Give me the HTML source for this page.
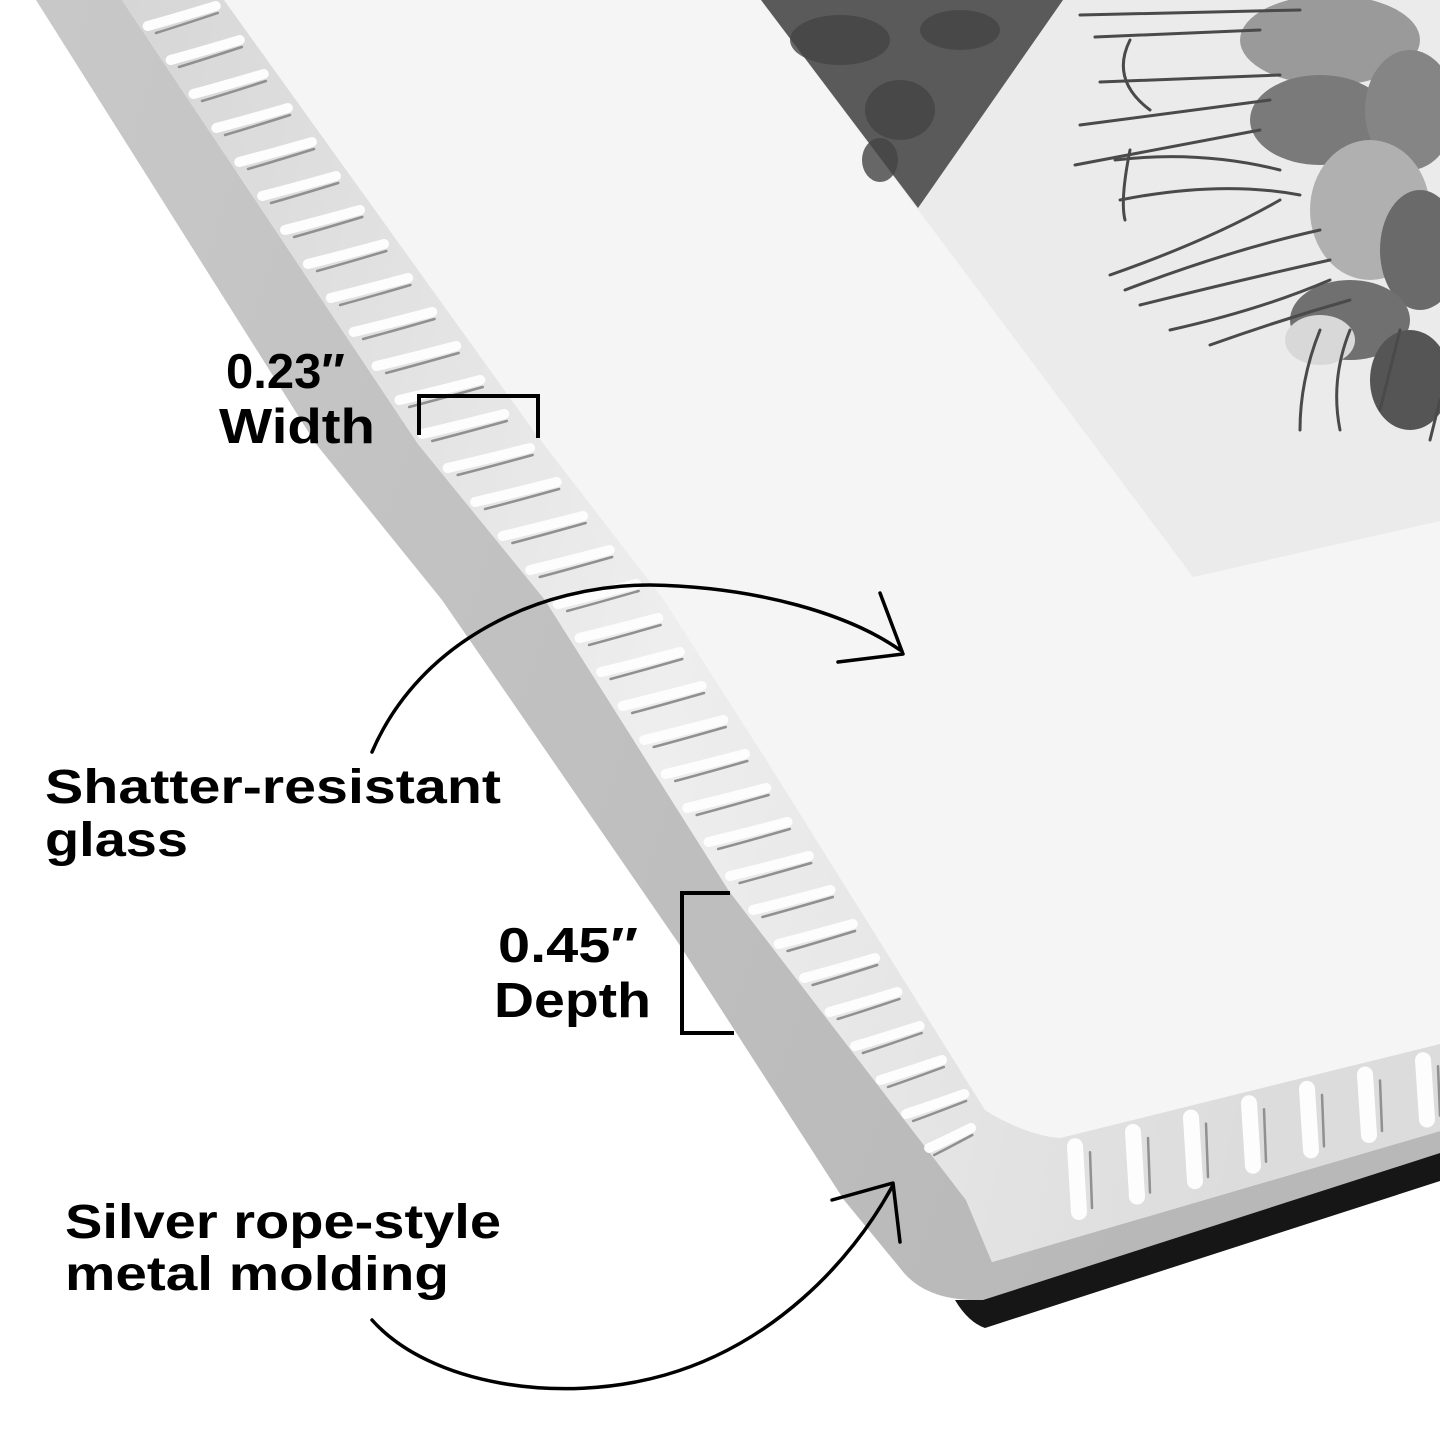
<!DOCTYPE html>
<html><head><meta charset="utf-8"><style>
html,body{margin:0;padding:0;background:#fff;}
svg{display:block}
.t{font-family:"Liberation Sans",sans-serif;font-weight:bold;fill:#000;}
</style></head><body>
<svg id="s" width="1440" height="1440" viewBox="0 0 1440 1440" xmlns="http://www.w3.org/2000/svg">
<defs>
<linearGradient id="gf" x1="0" y1="0" x2="1" y2="0.3">
<stop offset="0" stop-color="#c8c8c8"/><stop offset="1" stop-color="#b8b8b8"/></linearGradient>
<linearGradient id="rp" x1="0" y1="0" x2="1" y2="0.2">
<stop offset="0" stop-color="#d6d6d6"/><stop offset="0.5" stop-color="#eeeeee"/><stop offset="1" stop-color="#dcdcdc"/></linearGradient>
</defs>
<rect width="1440" height="1440" fill="#fff"/>
<!-- mat -->
<polygon points="224,0 1440,0 1440,1044 1060,1138 1025,1132 985,1110 767,761 664,600 536,434" fill="#f5f5f5"/>
<!-- photo -->
<polygon points="761,0 1440,0 1440,521 1193,577" fill="#ebebeb"/>
<polygon points="761,0 1063,0 918,208" fill="#5a5a5a"/>
<g fill="#444" opacity="0.8">
<ellipse cx="840" cy="40" rx="50" ry="25"/><ellipse cx="900" cy="110" rx="35" ry="30"/><ellipse cx="960" cy="30" rx="40" ry="20"/><ellipse cx="880" cy="160" rx="18" ry="22"/>
</g>
<g fill="#9a9a9a">
<ellipse cx="1330" cy="40" rx="90" ry="45"/>
<ellipse cx="1320" cy="120" rx="70" ry="45" fill="#7a7a7a"/>
<ellipse cx="1410" cy="110" rx="45" ry="60" fill="#858585"/>
<ellipse cx="1370" cy="210" rx="60" ry="70" fill="#b0b0b0"/>
<ellipse cx="1420" cy="250" rx="40" ry="60" fill="#6a6a6a"/>
<ellipse cx="1350" cy="320" rx="60" ry="40" fill="#707070"/>
<ellipse cx="1320" cy="340" rx="35" ry="25" fill="#d8d8d8"/>
<ellipse cx="1410" cy="380" rx="40" ry="50" fill="#555"/>
</g>
<g stroke="#4a4a4a" stroke-width="3" fill="none" stroke-linecap="round">
<path d="M1080,15 L1300,10"/><path d="M1095,37 L1260,30"/><path d="M1100,82 L1280,75"/>
<path d="M1080,125 L1270,100"/><path d="M1075,165 L1260,130"/><path d="M1115,160 Q1200,150 1280,170"/>
<path d="M1120,200 Q1220,180 1300,195"/><path d="M1125,290 Q1230,250 1320,230"/>
<path d="M1110,275 Q1210,240 1280,200"/><path d="M1140,305 Q1240,280 1330,260"/>
<path d="M1170,330 Q1260,310 1330,280"/><path d="M1210,345 Q1280,320 1350,300"/>
<path d="M1130,40 Q1110,80 1150,110"/><path d="M1130,150 Q1120,200 1125,220"/>
<path d="M1300,430 Q1300,380 1320,330"/><path d="M1340,430 Q1330,380 1350,330"/>
<path d="M1380,410 L1400,330"/><path d="M1430,440 L1440,400"/>
</g>
<!-- gray face -->
<path d="M36,0 L316,444 L442,600 L679,944 L844,1200 L900,1268 Q925,1302 983,1300 L1440,1153 L1440,1131 L992,1262 L966,1200 L729,891 L545,600 L418,444 L122,0 Z" fill="url(#gf)"/>
<!-- black backing -->
<path d="M955,1300 Q968,1322 985,1328 L1440,1181 L1440,1153 L983,1300 Z" fill="#161616"/>
<!-- rope band -->
<path d="M122,0 L418,444 L545,600 L729,891 L966,1200 L992,1262 L1440,1131 L1440,1044 L1060,1138 Q1025,1135 985,1110 L767,761 L664,600 L536,434 L224,0 Z" fill="url(#rp)"/>
<g id="ridges" fill="none" stroke-linecap="round"></g>
<!-- brackets -->
<path d="M419,435 V396 H538 V438" stroke="#000" stroke-width="4" fill="none"/>
<path d="M730,893 H682 V1033 H734" stroke="#000" stroke-width="4" fill="none"/>
<!-- arrows -->
<g stroke="#000" stroke-width="3.5" fill="none" stroke-linecap="round" stroke-linejoin="round">
<path d="M372,752 C420,640 540,585 650,585 C760,587 850,615 900,650"/>
<path d="M880,593 L903,654 L838,662"/>
<path d="M372,1320 C430,1385 560,1405 665,1375 C770,1345 850,1265 893,1185"/>
<path d="M832,1200 L893,1183 L900,1242"/>
</g>
<!-- labels -->
<text class="t" x="226" y="388" font-size="49">0.23″</text>
<text class="t" x="219" y="443" font-size="49" textLength="156" lengthAdjust="spacingAndGlyphs">Width</text>
<text class="t" x="45" y="803" font-size="48" textLength="456" lengthAdjust="spacingAndGlyphs">Shatter-resistant</text>
<text class="t" x="45" y="856" font-size="48" textLength="143" lengthAdjust="spacingAndGlyphs">glass</text>
<text class="t" x="498" y="962" font-size="49" textLength="140" lengthAdjust="spacingAndGlyphs">0.45″</text>
<text class="t" x="494" y="1017" font-size="49" textLength="157" lengthAdjust="spacingAndGlyphs">Depth</text>
<text class="t" x="65" y="1238" font-size="48" textLength="436" lengthAdjust="spacingAndGlyphs">Silver rope-style</text>
<text class="t" x="65" y="1290" font-size="48" textLength="384" lengthAdjust="spacingAndGlyphs">metal molding</text>
</svg>
<script>
(function(){
var ns="http://www.w3.org/2000/svg",g=document.getElementById("ridges");
var A=[[122,0],[418,444],[545,600],[729,891],[966,1200]];
var B=[[224,0],[536,434],[664,600],[767,761],[985,1110]];
function at(P,y){for(var i=0;i<P.length-1;i++){if(y>=P[i][1]&&y<=P[i+1][1]){var t=(y-P[i][1])/(P[i+1][1]-P[i][1]);return P[i][0]+t*(P[i+1][0]-P[i][0]);}}return P[P.length-1][0];}
function p(d,c,w){var e=document.createElementNS(ns,"path");e.setAttribute("d",d);e.setAttribute("stroke",c);e.setAttribute("stroke-width",w);g.appendChild(e);}
for(var y=20;y<1150;y+=34){var a=at(A,y),b=at(B,y);var w=b-a;
p("M"+(a+w*0.12)+","+(y+6)+" Q"+(a+w*0.4)+","+(y-2)+" "+(a+w*0.78)+","+(y-14),"#fdfdfd",10);
p("M"+(a+w*0.2)+","+(y+13)+" Q"+(a+w*0.45)+","+(y+5)+" "+(a+w*0.8)+","+(y-7),"#909090",2.5);}
for(var x=1075;x<1440;x+=58){var t=(x-1060)/380,top=1138-94*t,bot=1250-(1250-1131)*((x-992)/448);
p("M"+x+","+(top+12)+" L"+(x+4)+","+(bot-16),"#fdfdfd",16);
p("M"+(x+15)+","+(top+18)+" L"+(x+17)+","+(bot-20),"#909090",2.5);}
})();
</script>
</body></html>
